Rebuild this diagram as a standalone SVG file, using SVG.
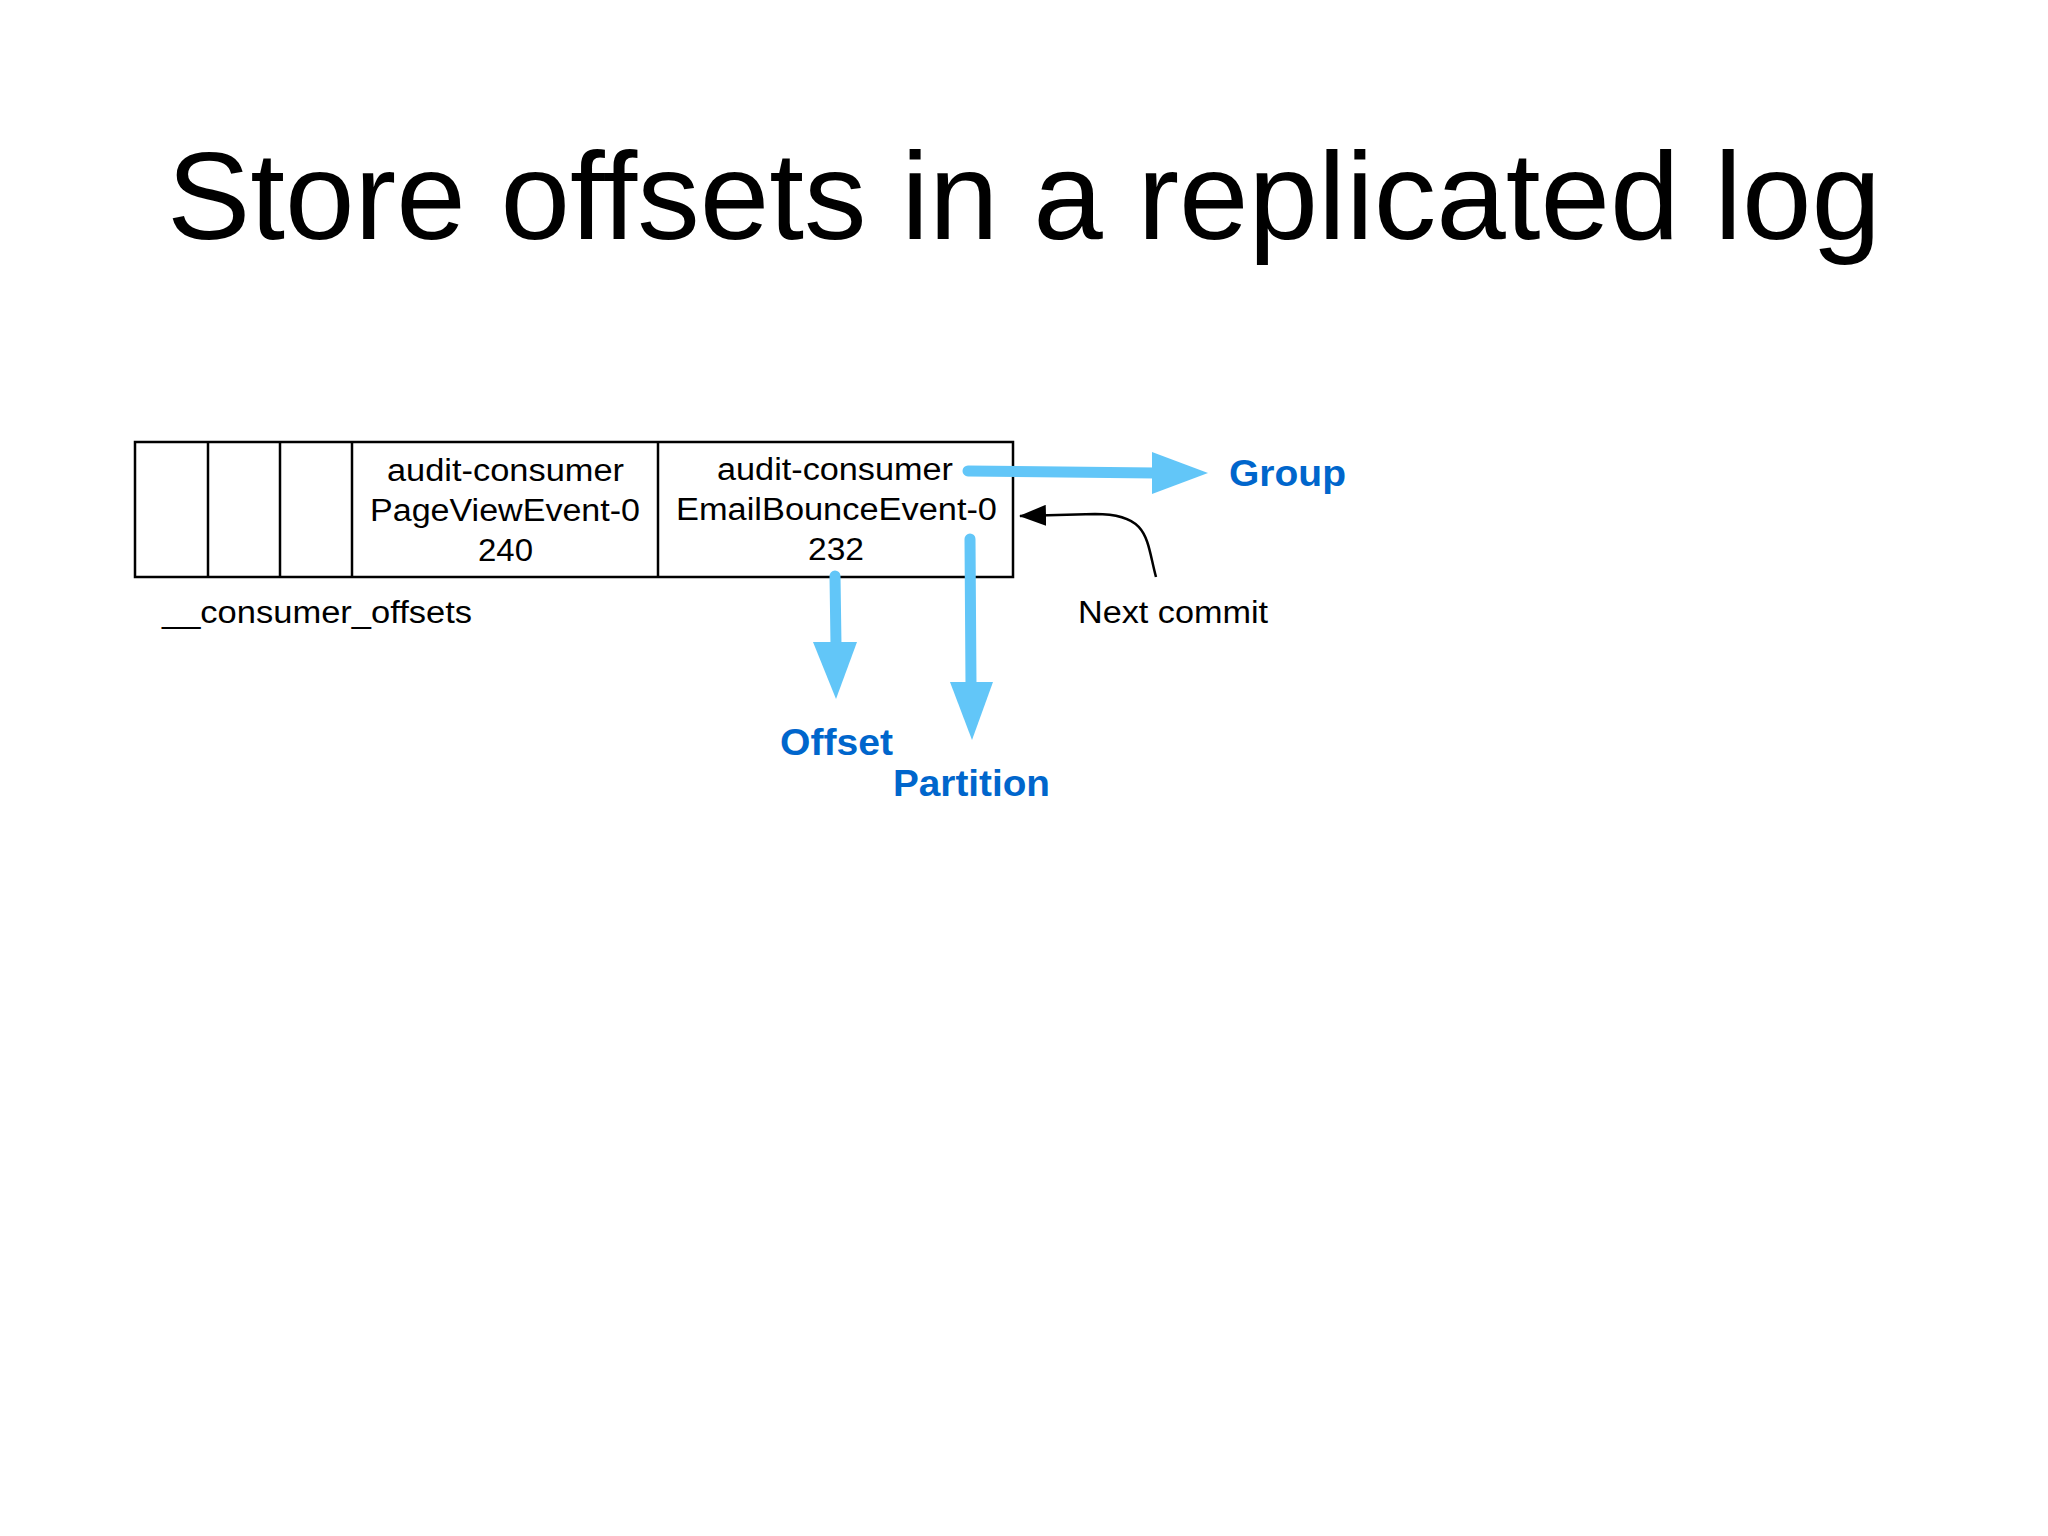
<svg xmlns="http://www.w3.org/2000/svg" width="2048" height="1536" viewBox="0 0 2048 1536">
<defs>
<style>
.title{font-family:"Liberation Sans",Arial,sans-serif;font-size:125px;fill:#000}
.t{font-family:"Liberation Sans",Arial,sans-serif;font-size:31px;fill:#000}
.b{font-family:"Liberation Sans",Arial,sans-serif;font-size:36px;font-weight:bold;fill:#0066CC}
.box{fill:#fff;stroke:#000;stroke-width:2.5}
.blue{stroke:#62C6F8;stroke-width:11;stroke-linecap:round;fill:none}
.head{fill:#62C6F8}
</style>
<marker id="blk" markerWidth="27" markerHeight="21" refX="26" refY="10.5" orient="auto" markerUnits="userSpaceOnUse" viewBox="0 0 27 21">
<path d="M0,0 L27,10.5 L0,21 Z" fill="#000"/>
</marker>
</defs>
<rect width="2048" height="1536" fill="#fff"/>
<text class="title" x="1024" y="239" text-anchor="middle">Store offsets in a replicated log</text>

<g id="log">
<rect class="box" x="135" y="442" width="878" height="135"/>
<line x1="208" y1="442" x2="208" y2="577" stroke="#000" stroke-width="2.5"/>
<line x1="280" y1="442" x2="280" y2="577" stroke="#000" stroke-width="2.5"/>
<line x1="352" y1="442" x2="352" y2="577" stroke="#000" stroke-width="2.5"/>
<line x1="658" y1="442" x2="658" y2="577" stroke="#000" stroke-width="2.5"/>
</g>
<g id="entry1">
<text class="t" x="387" y="481" textLength="237" lengthAdjust="spacingAndGlyphs">audit-consumer</text>
<text class="t" x="370" y="521" textLength="270" lengthAdjust="spacingAndGlyphs">PageViewEvent-0</text>
<text class="t" x="478" y="561" textLength="55" lengthAdjust="spacingAndGlyphs">240</text>
</g>
<g id="entry2">
<text class="t" x="717" y="480" textLength="236" lengthAdjust="spacingAndGlyphs">audit-consumer</text>
<text class="t" x="676" y="520" textLength="321" lengthAdjust="spacingAndGlyphs">EmailBounceEvent-0</text>
<text class="t" x="808" y="560" textLength="56" lengthAdjust="spacingAndGlyphs">232</text>
</g>
<g id="log-label">
<text class="t" x="162" y="623" textLength="310" lengthAdjust="spacingAndGlyphs">__consumer_offsets</text>
</g>
<g id="next-commit">
<text class="t" x="1078" y="623" textLength="190" lengthAdjust="spacingAndGlyphs">Next commit</text>
</g>
<g id="group-label">
<text class="b" x="1229" y="486" textLength="117" lengthAdjust="spacingAndGlyphs">Group</text>
</g>
<g id="offset-label">
<text class="b" x="780" y="755" textLength="113" lengthAdjust="spacingAndGlyphs">Offset</text>
</g>
<g id="partition-label">
<text class="b" x="893" y="796" textLength="157" lengthAdjust="spacingAndGlyphs">Partition</text>
</g>

<g id="connectors">
<line class="blue" x1="968" y1="471" x2="1155" y2="473"/>
<path class="head" d="M1152,452 L1208,473 L1152,494 Z"/>
<line class="blue" x1="835" y1="576" x2="836" y2="645"/>
<path class="head" d="M813,642 L857,642 L836,699 Z"/>
<line class="blue" x1="970" y1="539" x2="971" y2="685"/>
<path class="head" d="M950,682 L993,682 L972,740 Z"/>
<path d="M1156,577 C1146,540 1150,514 1095,514 L1020,516" fill="none" stroke="#000" stroke-width="2.5" marker-end="url(#blk)"/>
</g>
</svg>
